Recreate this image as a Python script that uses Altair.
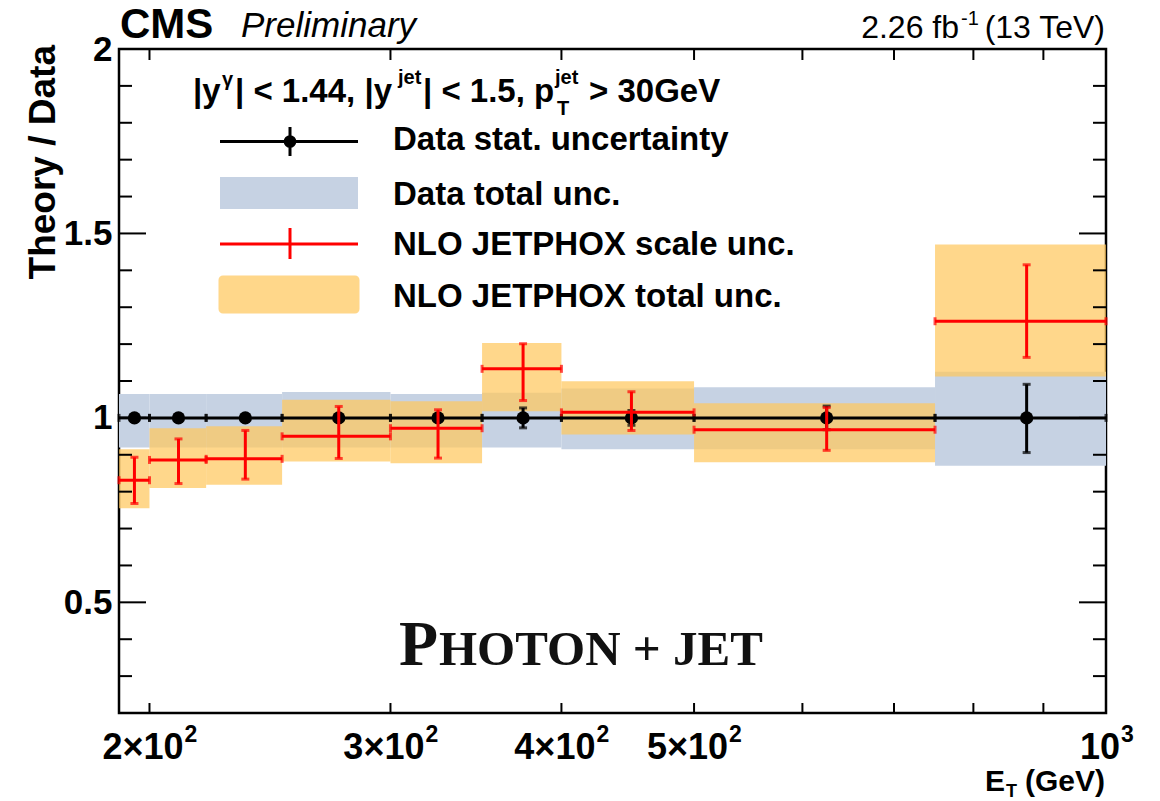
import altair as alt
import pandas as pd

# ---------------- data ----------------
bin_lo = [190, 200, 220, 250, 300, 350, 400, 500, 750]
bin_hi = [200, 220, 250, 300, 350, 400, 500, 750, 1000]
bin_center = [195, 210, 235, 275, 325, 375, 450, 625, 875]

data_ratio = [1.0, 1.0, 1.0, 1.0, 1.0, 1.0, 1.0, 1.0, 1.0]
data_stat_lo = [0.992, 0.992, 0.992, 0.992, 0.992, 0.973, 0.980, 0.968, 0.906]
data_stat_hi = [1.008, 1.008, 1.008, 1.008, 1.008, 1.027, 1.020, 1.032, 1.091]
data_tot_lo = [0.920, 0.920, 0.920, 0.920, 0.920, 0.920, 0.915, 0.915, 0.870]
data_tot_hi = [1.065, 1.065, 1.065, 1.070, 1.065, 1.068, 1.080, 1.083, 1.125]

nlo_ratio = [0.831, 0.886, 0.889, 0.950, 0.972, 1.133, 1.015, 0.968, 1.262]
nlo_scale_lo = [0.768, 0.822, 0.834, 0.890, 0.891, 1.047, 0.966, 0.912, 1.164]
nlo_scale_hi = [0.893, 0.943, 0.966, 1.031, 1.022, 1.201, 1.071, 1.028, 1.415]
nlo_tot_lo = [0.755, 0.810, 0.819, 0.882, 0.877, 1.018, 0.955, 0.880, 1.112]
nlo_tot_hi = [0.915, 0.972, 0.977, 1.049, 1.045, 1.203, 1.099, 1.040, 1.470]

x_tick_values = [200, 300, 400, 500, 600, 700, 800, 900]
x_label_values = [200, 300, 400, 500]
x_label_texts = ["2×10", "3×10", "4×10", "5×10"]
x_label_exps = ["2", "2", "2", "2"]
x_end_value = [1000]
x_end_text = ["10"]
x_end_exp = ["3"]
y_major_values = [0.5, 1.0, 1.5, 2.0]
y_minor_values = [0.3, 0.4, 0.6, 0.7, 0.8, 0.9, 1.1, 1.2, 1.3, 1.4, 1.6, 1.7, 1.8, 1.9]

df = pd.DataFrame({
    "lo": bin_lo, "hi": bin_hi, "xc": bin_center,
    "d": data_ratio, "dsl": data_stat_lo, "dsh": data_stat_hi,
    "dtl": data_tot_lo, "dth": data_tot_hi,
    "n": nlo_ratio, "nsl": nlo_scale_lo, "nsh": nlo_scale_hi,
    "ntl": nlo_tot_lo, "nth": nlo_tot_hi,
})
df_xt = pd.DataFrame({"v": x_tick_values})
df_xl = pd.DataFrame({"v": x_label_values, "t": x_label_texts, "e": x_label_exps})
df_xe = pd.DataFrame({"v": x_end_value, "t": x_end_text, "e": x_end_exp})
df_ymaj = pd.DataFrame({"v": y_major_values})
df_ymin = pd.DataFrame({"v": y_minor_values})

# ---------------- styling ----------------
W, H = 987, 664
FONT = "Liberation Sans"
SERIF = "Liberation Serif"
HATCH_BLUE = "#c6d2e3"
ORANGE = "#ffc85e"
RED = "#ff0000"

xs = alt.Scale(type="log", domain=[190, 1000])
ys = alt.Scale(domain=[0.2, 2.0], nice=False, zero=False)

y_axis = alt.Axis(
    values=y_major_values, format="~g",
    ticks=False, domain=False, grid=False, title=None,
    labelFont=FONT, labelFontSize=35, labelFontWeight="bold", labelColor="black",
    labelPadding=7, labelFlush=False,
)

base = alt.Chart(df)


def X(field):
    return alt.X(field, type="quantitative", scale=xs, axis=None)


def Y(field):
    return alt.Y(field, type="quantitative", scale=ys, axis=y_axis)


# bands
data_band = base.mark_rect(fill=HATCH_BLUE, opacity=1.0).encode(
    x=X("lo"), x2="hi", y=Y("dtl"), y2="dth")
nlo_band = base.mark_rect(fill=ORANGE, opacity=0.72).encode(
    x=X("lo"), x2="hi", y=Y("ntl"), y2="nth")

# data points with stat. errors
data_h = base.mark_rule(color="black", strokeWidth=3).encode(
    x=X("lo"), x2="hi", y=Y("d"))
data_v = base.mark_rule(color="black", strokeWidth=3).encode(
    x=X("xc"), y=Y("dsl"), y2="dsh")
data_cap_l = base.mark_tick(orient="vertical", color="black", size=8, thickness=3).encode(
    x=X("lo"), y=Y("d"))
data_cap_r = base.mark_tick(orient="vertical", color="black", size=8, thickness=3).encode(
    x=X("hi"), y=Y("d"))
data_cap_t = base.mark_tick(orient="horizontal", color="black", size=8, thickness=3).encode(
    x=X("xc"), y=Y("dsh"))
data_cap_b = base.mark_tick(orient="horizontal", color="black", size=8, thickness=3).encode(
    x=X("xc"), y=Y("dsl"))
data_pts = base.mark_point(filled=True, color="black", size=175, opacity=1).encode(
    x=X("xc"), y=Y("d"))

# NLO central values with scale errors
nlo_h = base.mark_rule(color=RED, strokeWidth=3).encode(
    x=X("lo"), x2="hi", y=Y("n"))
nlo_v = base.mark_rule(color=RED, strokeWidth=3).encode(
    x=X("xc"), y=Y("nsl"), y2="nsh")
nlo_cap_l = base.mark_tick(orient="vertical", color=RED, size=8, thickness=3).encode(
    x=X("lo"), y=Y("n"))
nlo_cap_r = base.mark_tick(orient="vertical", color=RED, size=8, thickness=3).encode(
    x=X("hi"), y=Y("n"))
nlo_cap_t = base.mark_tick(orient="horizontal", color=RED, size=8, thickness=3).encode(
    x=X("xc"), y=Y("nsh"))
nlo_cap_b = base.mark_tick(orient="horizontal", color=RED, size=8, thickness=3).encode(
    x=X("xc"), y=Y("nsl"))

# inner ticks (ROOT style)
xt_bot = alt.Chart(df_xt).mark_rule(color="black", strokeWidth=2).encode(
    x=X("v"), y=alt.value(H), y2=alt.value(H - 10))
xt_top = alt.Chart(df_xt).mark_rule(color="black", strokeWidth=2).encode(
    x=X("v"), y=alt.value(0), y2=alt.value(11))
ymaj_l = alt.Chart(df_ymaj).mark_rule(color="black", strokeWidth=2).encode(
    y=Y("v"), x=alt.value(0), x2=alt.value(27))
ymaj_r = alt.Chart(df_ymaj).mark_rule(color="black", strokeWidth=2).encode(
    y=Y("v"), x=alt.value(W - 27), x2=alt.value(W))
ymin_l = alt.Chart(df_ymin).mark_rule(color="black", strokeWidth=2).encode(
    y=Y("v"), x=alt.value(0), x2=alt.value(13))
ymin_r = alt.Chart(df_ymin).mark_rule(color="black", strokeWidth=2).encode(
    y=Y("v"), x=alt.value(W - 13), x2=alt.value(W))

# x tick labels "n×10²" and "10³" with real superscripts
lab_kw = dict(font=FONT, fontWeight="bold", color="black", baseline="alphabetic")
xl_main = alt.Chart(df_xl).mark_text(align="right", dx=34, fontSize=36, **lab_kw).encode(
    x=X("v"), y=alt.value(710), text="t:N")
xl_exp = alt.Chart(df_xl).mark_text(align="left", dx=35, fontSize=23, **lab_kw).encode(
    x=X("v"), y=alt.value(693), text="e:N")
xe_main = alt.Chart(df_xe).mark_text(align="right", dx=14, fontSize=36, **lab_kw).encode(
    x=X("v"), y=alt.value(710), text="t:N")
xe_exp = alt.Chart(df_xe).mark_text(align="left", dx=15, fontSize=23, **lab_kw).encode(
    x=X("v"), y=alt.value(693), text="e:N")


def txt(s, x, y, size, weight="bold", align="left", baseline="alphabetic",
        font=FONT, style="normal", angle=0, color="black"):
    kw = dict(align=align, baseline=baseline, font=font, fontSize=size,
              fontWeight=weight, fontStyle=style, color=color)
    if angle:
        kw["angle"] = angle
    return alt.Chart(pd.DataFrame({"t": [s]})).mark_text(**kw).encode(
        text="t:N", x=alt.value(x), y=alt.value(y))


def one():
    return alt.Chart(pd.DataFrame({"k": [0]}))


# legend symbols
leg = [
    one().mark_rule(color="black", strokeWidth=3).encode(
        x=alt.value(101), x2=alt.value(239), y=alt.value(92.5)),
    one().mark_rule(color="black", strokeWidth=3).encode(
        x=alt.value(171), y=alt.value(78), y2=alt.value(107)),
    one().mark_point(filled=True, color="black", size=160, opacity=1).encode(
        x=alt.value(171), y=alt.value(92.5)),
    one().mark_rect(fill=HATCH_BLUE).encode(
        x=alt.value(101), x2=alt.value(239), y=alt.value(128), y2=alt.value(160)),
    one().mark_rule(color=RED, strokeWidth=3).encode(
        x=alt.value(101), x2=alt.value(239), y=alt.value(195)),
    one().mark_rule(color=RED, strokeWidth=3).encode(
        x=alt.value(171), y=alt.value(179), y2=alt.value(210)),
    one().mark_rect(fill=ORANGE, opacity=0.72, stroke=ORANGE, strokeWidth=3,
                    cornerRadius=3).encode(
        x=alt.value(101), x2=alt.value(239), y=alt.value(228), y2=alt.value(263)),
]

texts = [
    # legend labels
    txt("Data stat. uncertainty", 274, 101, 33),
    txt("Data total unc.", 274, 156, 33),
    txt("NLO JETPHOX scale unc.", 274, 206, 33),
    txt("NLO JETPHOX total unc.", 274, 257.5, 33),
    # selection header
    txt("|y", 74, 53, 33),
    txt("γ", 103, 37, 20),
    txt("| < 1.44, |y", 116, 53, 33),
    txt("jet", 279, 35, 20),
    txt("| < 1.5, p", 304, 53, 33),
    txt("jet", 436, 35, 20),
    txt("T", 438, 66, 20),
    txt("> 30GeV", 470, 53, 33),
    # CMS header
    txt("CMS", 1, -11, 42),
    txt("Preliminary", 122, -12, 35, weight="normal", style="italic"),
    txt("(13 TeV)", 986, -11, 32, weight="normal", align="right"),
    txt("-1", 842, -24, 20, weight="normal"),
    txt("2.26 fb", 840, -11, 32, weight="normal", align="right"),
    # axis titles
    txt("Theory / Data", -64, -4, 37, align="right", angle=270),
    txt("(GeV)", 986, 742, 30, align="right"),
    txt("E", 886, 742, 30, align="right"),
    txt("T", 887, 748, 18),
    # process label
    txt("P", 280, 616, 64, font=SERIF, color="#111111"),
    txt("HOTON + JET", 320, 616, 49, font=SERIF, color="#111111"),
]

chart = alt.layer(
    data_band, nlo_band,
    data_h, data_v, data_cap_l, data_cap_r, data_cap_t, data_cap_b, data_pts,
    nlo_h, nlo_v, nlo_cap_l, nlo_cap_r, nlo_cap_t, nlo_cap_b,
    xt_bot, xt_top, ymaj_l, ymaj_r, ymin_l, ymin_r,
    xl_main, xl_exp, xe_main, xe_exp,
    *leg, *texts,
).properties(
    width=W, height=H,
    autosize=alt.AutoSizeParams(type="none"),
    padding={"left": 119, "top": 49, "right": 1160 - 119 - W, "bottom": 801 - 49 - H},
    background="white",
).configure_view(stroke="black", strokeWidth=2.5)

chart.save("out.html", embed_options={"renderer": "svg", "actions": False})
